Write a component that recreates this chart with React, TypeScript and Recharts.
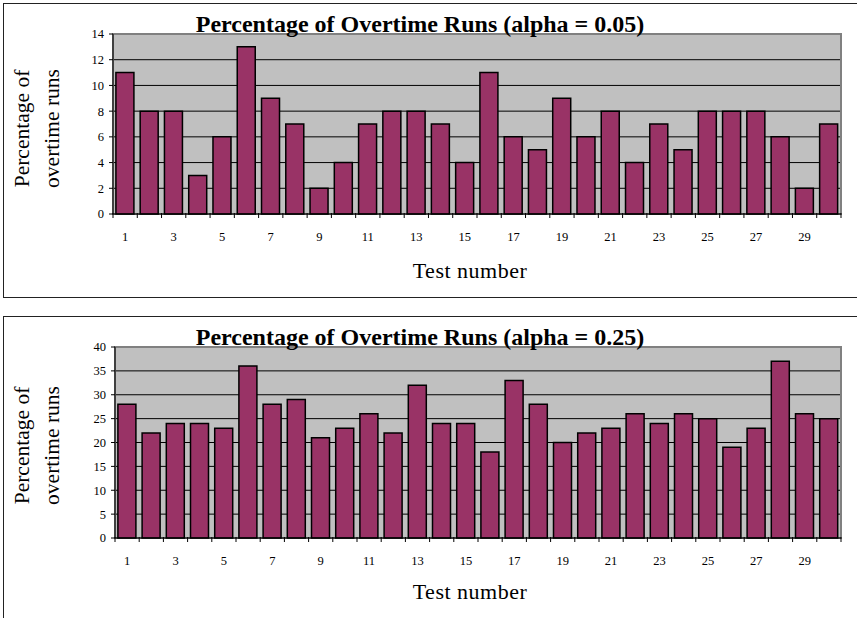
import React from 'react';
import { BarChart, Bar, XAxis, YAxis, CartesianGrid, ReferenceArea } from 'recharts';

const tests = [1, 2, 3, 4, 5, 6, 7, 8, 9, 10, 11, 12, 13, 14, 15, 16, 17, 18, 19, 20, 21, 22, 23, 24, 25, 26, 27, 28, 29, 30];
const overtime05 = [11, 8, 8, 3, 6, 13, 9, 7, 2, 4, 7, 8, 8, 7, 4, 11, 6, 5, 9, 6, 8, 4, 7, 5, 8, 8, 8, 6, 2, 7];
const overtime25 = [28, 22, 24, 24, 23, 36, 28, 29, 21, 23, 26, 22, 32, 24, 24, 18, 33, 28, 20, 22, 23, 26, 24, 26, 25, 19, 23, 37, 26, 25];
const ticks05 = [0, 2, 4, 6, 8, 10, 12, 14];
const ticks25 = [0, 5, 10, 15, 20, 25, 30, 35, 40];
const title05 = 'Percentage of Overtime Runs (alpha = 0.05)';
const title25 = 'Percentage of Overtime Runs (alpha = 0.25)';

const FONT = "'Liberation Serif', 'Times New Roman', serif";

interface PanelProps {
  title: string;
  values: number[];
  yTicks: number[];
  top: number;
  height: number;
  plotLeft: number;
  plotTop: number;
  plotBottom: number;
  xLabelY: number;
  yLabelY: number;
}

const PLOT_RIGHT = 837;
const CHART_W = 853;

const XTick = ({ x, y, payload, bw }: any) => {
  const v = payload.value;
  const last = v === tests[tests.length - 1];
  return (
    <g>
      <line x1={x - bw / 2} y1={y - 1} x2={x - bw / 2} y2={y + 4} stroke="#000" />
      {last && <line x1={x + bw / 2} y1={y - 1} x2={x + bw / 2} y2={y + 4} stroke="#000" />}
      {v % 2 === 1 && (
        <text x={x} y={y + 27} textAnchor="middle" fontSize={12.5} fontFamily={FONT} fill="#000">
          {v}
        </text>
      )}
    </g>
  );
};

const Panel = (p: PanelProps) => {
  const data = tests.map((t, i) => ({ test: t, pct: p.values[i] }));
  const bw = (PLOT_RIGHT - p.plotLeft) / tests.length;
  const yMax = p.yTicks[p.yTicks.length - 1];
  return (
    <div
      style={{
        position: 'absolute',
        left: 3,
        top: p.top,
        width: 870,
        height: p.height,
        border: '1px solid #222',
        borderRight: 'none',
        background: '#fff',
      }}
    >
      <BarChart
        width={CHART_W}
        height={p.height}
        data={data}
        margin={{ top: p.plotTop, right: CHART_W - PLOT_RIGHT, left: 0, bottom: p.height - p.plotBottom - 40 }}
        barCategoryGap="12%"
      >
        <CartesianGrid vertical={false} stroke="#000" fill="#C0C0C0" fillOpacity={1} />
        <ReferenceArea y1={0} y2={yMax} fill="none" stroke="#808080" strokeWidth={2} />
        <XAxis
          dataKey="test"
          height={40}
          interval={0}
          tickLine={false}
          tickSize={0}
          tickMargin={0}
          axisLine={{ stroke: '#000' }}
          tick={<XTick bw={bw} />}
        />
        <YAxis
          width={p.plotLeft}
          domain={[0, yMax]}
          ticks={p.yTicks}
          interval={0}
          tickSize={4}
          tickMargin={5}
          axisLine={{ stroke: '#000' }}
          tickLine={{ stroke: '#000' }}
          tick={{ fontSize: 12.5, fontFamily: FONT, fill: '#000' }}
        />
        <Bar dataKey="pct" fill="#993366" stroke="#000" strokeWidth={1.5} isAnimationActive={false} />
      </BarChart>
      <svg
        width={CHART_W}
        height={p.height}
        style={{ position: 'absolute', left: 0, top: 0, pointerEvents: 'none' }}
        fontFamily={FONT}
      >
        <text x={416} y={p.plotTop - 2} textAnchor="middle" fontSize={24} fontWeight="bold" fill="#000">
          {p.title}
        </text>
        <text
          transform={`translate(18, ${p.yLabelY}) rotate(-90)`}
          textAnchor="middle"
          dominantBaseline="central"
          fontSize={21.5}
          fill="#000"
        >
          Percentage of
        </text>
        <text
          transform={`translate(48, ${p.yLabelY}) rotate(-90)`}
          textAnchor="middle"
          dominantBaseline="central"
          fontSize={21.5}
          fill="#000"
        >
          overtime runs
        </text>
        <text x={466} y={p.xLabelY} textAnchor="middle" fontSize={22} letterSpacing={0.5} fill="#000">
          Test number
        </text>
      </svg>
    </div>
  );
};

export default function App() {
  return (
    <div style={{ position: 'absolute', left: 0, top: 0, width: 857, height: 618, overflow: 'hidden', background: '#fff' }}>
      <Panel
        title={title05}
        values={overtime05}
        yTicks={ticks05}
        top={3}
        height={293}
        plotLeft={109}
        plotTop={30}
        plotBottom={210}
        xLabelY={274}
        yLabelY={124.5}
      />
      <Panel
        title={title25}
        values={overtime25}
        yTicks={ticks25}
        top={316}
        height={320}
        plotLeft={111}
        plotTop={30}
        plotBottom={221}
        xLabelY={282}
        yLabelY={128.5}
      />
    </div>
  );
}
